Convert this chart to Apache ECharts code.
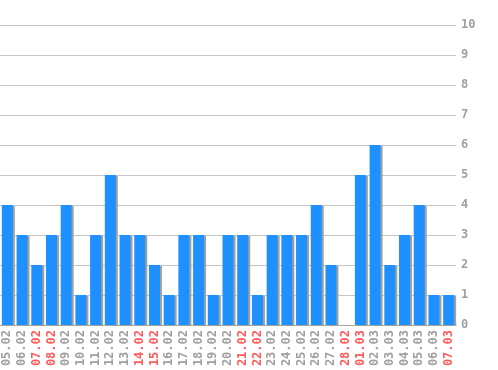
<!DOCTYPE html>
<html><head><meta charset="utf-8">
<script src="https://cdn.jsdelivr.net/npm/echarts@6/dist/echarts.min.js"></script>
<style>html,body{margin:0;padding:0;background:#fff}#c{width:498px;height:370px}</style>
</head><body><div id="c"></div>
<script>
const categories = ["05.02","06.02","07.02","08.02","09.02","10.02","11.02","12.02","13.02","14.02","15.02","16.02","17.02","18.02","19.02","20.02","21.02","22.02","23.02","24.02","25.02","26.02","27.02","28.02","01.03","02.03","03.03","04.03","05.03","06.03","07.03"];
const values = [4,3,2,3,4,1,3,5,3,3,2,1,3,3,1,3,3,1,3,3,3,4,2,0,5,6,2,3,4,1,1];
const weekendLabels = ["07.02","08.02","14.02","15.02","21.02","22.02","28.02","01.03","07.03"];
const yTicks = [0,1,2,3,4,5,6,7,8,9,10];

const chart = echarts.init(document.getElementById('c'));
chart.setOption({
  animation: false,
  grid: {left: -3, right: 42, top: 25, bottom: 45, containLabel: false},
  xAxis: {
    type: 'category', data: categories,
    axisLine: {show: true, lineStyle: {color: '#a8a8a8', width: 1}},
    axisTick: {show: false},
    axisLabel: {
      interval: 0, rotate: 90, margin: 5, fontFamily: 'DejaVu Sans Mono', fontSize: 12, fontWeight: 'bold',
      color: (v) => weekendLabels.includes(v) ? '#ff5a5a' : '#a0a0a0'
    }
  },
  yAxis: {
    type: 'value', position: 'right', min: yTicks[0], max: yTicks[yTicks.length-1], interval: 1,
    axisLine: {show: false}, axisTick: {show: false},
    splitLine: {lineStyle: {color: '#c4c4c4', width: 1}},
    axisLabel: {margin: 5, fontFamily: 'DejaVu Sans Mono', fontSize: 12, color: '#a0a0a0', fontWeight: 'bold'}
  },
  series: [{
    type: 'bar', data: values, barWidth: 11,
    itemStyle: {color: '#1e90ff', shadowColor: '#a0a0a0', shadowOffsetX: 2, shadowOffsetY: 1, shadowBlur: 0}
  }]
});
</script></body></html>
